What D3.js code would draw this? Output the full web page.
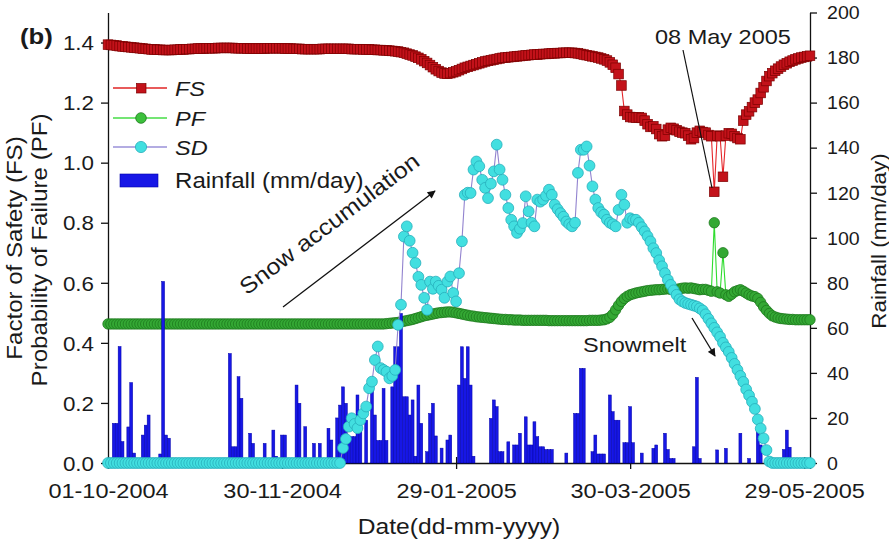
<!DOCTYPE html>
<html>
<head>
<meta charset="utf-8">
<script src="https://cdn.jsdelivr.net/npm/d3@7"></script>
<style>
  body { margin: 0; background: #fff; }
  svg { display: block; }
  text { font-family: "Liberation Sans", Arial, Helvetica, sans-serif; fill: #1a1a1a; }
</style>
</head>
<body>
<svg id="chart" width="889" height="548"></svg>
<script>
// ---- data: one value per day, 01-10-2004 .. 31-05-2005 ----
const firstDayLabel = "01-10-2004";
const lastDayLabel = "31-05-2005";
const dateTicks = ["01-10-2004", "30-11-2004", "29-01-2005", "30-03-2005", "29-05-2005"];
const leftTicks = [0, 0.2, 0.4, 0.6, 0.8, 1.0, 1.2, 1.4];
const rightTicks = [0, 20, 40, 60, 80, 100, 120, 140, 160, 180, 200];

// daily rainfall (mm/day)
const rainfall = [
  0,0,17.6,17.6,51.7,9.5,0,16,35.7,4.4,
  0,0,12.4,16.8,21.3,0,0,0,4,80.6,
  12.4,11,0,0,0,0,0,0,0,0,
  0,0,0,0,0,0,0,0,0,0,
  0,0,48.6,7.2,7.2,38.3,28.7,0,0,13.2,
  8.7,2,0,0,8.7,0,0,14.6,3,0,
  12.4,12.4,0,0,0,34.6,26.5,0,16.1,0,
  0,8.7,0,8.7,0,0,15.4,10.2,0,20,
  25.7,33.8,26.5,11.7,11.7,11.7,30.2,16.1,0,19,
  0,32.4,21.3,10,10,33.1,10,0,33.8,51.6,
  51.6,66.4,29.4,29.4,21.3,28,3,34.6,17.6,0,
  5,22,26.5,12,0,6.6,0,10.2,12.4,0,
  0,34.6,51.6,37.5,51.6,34.6,3,0,0,0,
  0,0,19.8,28,25,5,5,0,9.4,0,
  8,8,13.2,0,20.5,8,8,18.3,11.7,7.2,
  7.2,6,6,6,0,0,0,0,4.4,0,
  0,22,22,42,42,0,0,5,12.4,4,
  4,4,0,30.2,22.8,19,19,0,9,9,
  25,9,0,0,4.4,0,0,0,6.5,8,
  0,0,13.2,6,2,2,0,0,0,0,
  0,0,7.2,38,2,0,0,0,0,0,
  5.8,0,0,6.5,0,0,0,0,13.2,0,
  0,2,0,0,13.9,8,0,0,0,0,
  0,0,0,6,14.6,7,0,0,0,0,
  0,0,0
];

// factor of safety (FS)
const factorOfSafety = [
  1.393,1.392,1.391,1.390,1.388,1.387,1.386,1.385,1.384,1.383,
  1.382,1.381,1.380,1.379,1.378,1.377,1.377,1.376,1.376,1.375,
  1.375,1.375,1.375,1.376,1.376,1.377,1.377,1.378,1.378,1.379,
  1.379,1.380,1.380,1.380,1.381,1.381,1.381,1.381,1.382,1.382,
  1.382,1.382,1.382,1.382,1.381,1.381,1.381,1.381,1.380,1.380,
  1.380,1.380,1.380,1.380,1.380,1.381,1.381,1.381,1.381,1.381,
  1.381,1.380,1.380,1.380,1.379,1.379,1.379,1.378,1.378,1.378,
  1.378,1.378,1.378,1.378,1.379,1.379,1.379,1.379,1.379,1.379,
  1.379,1.379,1.379,1.379,1.378,1.378,1.378,1.378,1.377,1.377,
  1.377,1.376,1.376,1.375,1.375,1.374,1.374,1.373,1.372,1.371,
  1.370,1.368,1.366,1.363,1.360,1.357,1.353,1.349,1.344,1.338,
  1.332,1.325,1.318,1.311,1.305,1.300,1.297,1.296,1.298,1.301,
  1.304,1.308,1.312,1.316,1.319,1.322,1.325,1.328,1.331,1.334,
  1.337,1.339,1.341,1.343,1.345,1.347,1.349,1.350,1.351,1.352,
  1.353,1.354,1.355,1.356,1.357,1.358,1.359,1.360,1.360,1.361,
  1.362,1.362,1.363,1.364,1.364,1.365,1.365,1.366,1.366,1.366,
  1.366,1.365,1.364,1.362,1.360,1.358,1.356,1.354,1.352,1.350,
  1.347,1.344,1.340,1.334,1.326,1.316,1.295,1.257,1.172,1.160,
  1.152,1.151,1.150,1.151,1.149,1.140,1.128,1.119,1.121,1.112,
  1.095,1.088,1.090,1.110,1.116,1.113,1.108,1.103,1.100,1.098,
  1.090,1.078,1.082,1.100,1.106,1.102,1.100,1.092,1.088,0.903,
  1.090,1.088,0.953,1.090,1.098,1.096,1.088,1.082,1.078,1.140,
  1.160,1.171,1.185,1.200,1.210,1.232,1.251,1.272,1.288,1.298,
  1.306,1.313,1.320,1.326,1.331,1.336,1.340,1.344,1.347,1.350,
  1.352,1.354,1.356
];

// probability of failure (PF)
const probabilityOfFailure = [
  0.463,0.463,0.463,0.463,0.463,0.463,0.463,0.463,0.463,0.463,
  0.463,0.463,0.463,0.463,0.463,0.463,0.463,0.463,0.463,0.463,
  0.463,0.463,0.463,0.463,0.463,0.463,0.463,0.463,0.463,0.463,
  0.463,0.463,0.463,0.463,0.463,0.463,0.463,0.463,0.463,0.463,
  0.463,0.463,0.463,0.463,0.463,0.463,0.463,0.463,0.463,0.463,
  0.463,0.463,0.463,0.463,0.463,0.463,0.463,0.463,0.463,0.463,
  0.463,0.463,0.463,0.463,0.463,0.463,0.463,0.463,0.463,0.463,
  0.463,0.463,0.463,0.463,0.463,0.463,0.463,0.463,0.463,0.463,
  0.463,0.463,0.463,0.463,0.463,0.463,0.463,0.463,0.463,0.463,
  0.463,0.463,0.463,0.463,0.463,0.463,0.464,0.465,0.466,0.467,
  0.468,0.470,0.472,0.474,0.476,0.478,0.481,0.484,0.487,0.490,
  0.492,0.494,0.496,0.498,0.500,0.501,0.502,0.503,0.503,0.502,
  0.500,0.498,0.496,0.494,0.492,0.490,0.489,0.487,0.486,0.485,
  0.484,0.483,0.482,0.481,0.480,0.479,0.478,0.478,0.477,0.477,
  0.476,0.476,0.476,0.475,0.475,0.475,0.475,0.475,0.475,0.475,
  0.475,0.475,0.474,0.474,0.474,0.474,0.474,0.474,0.474,0.474,
  0.474,0.474,0.474,0.474,0.474,0.474,0.475,0.475,0.475,0.475,
  0.476,0.477,0.480,0.485,0.495,0.510,0.525,0.538,0.548,0.555,
  0.560,0.563,0.566,0.568,0.570,0.572,0.574,0.575,0.576,0.577,
  0.577,0.578,0.579,0.580,0.578,0.576,0.578,0.580,0.582,0.583,
  0.582,0.583,0.581,0.579,0.577,0.578,0.578,0.575,0.572,0.800,
  0.570,0.566,0.700,0.560,0.555,0.562,0.570,0.574,0.577,0.572,
  0.566,0.560,0.556,0.554,0.548,0.535,0.520,0.508,0.498,0.490,
  0.486,0.483,0.481,0.480,0.479,0.478,0.478,0.477,0.477,0.477,
  0.477,0.477,0.477
];

// snow depth (SD), drawn against the left axis
const snowDepth = [
  0,0,0,0,0,0,0,0,0,0,
  0,0,0,0,0,0,0,0,0,0,
  0,0,0,0,0,0,0,0,0,0,
  0,0,0,0,0,0,0,0,0,0,
  0,0,0,0,0,0,0,0,0,0,
  0,0,0,0,0,0,0,0,0,0,
  0,0,0,0,0,0,0,0,0,0,
  0,0,0,0,0,0,0,0,0,0,
  0,0.05,0.08,0.121,0.149,0.13,0.116,0.143,0.165,0.188,
  0.249,0.271,0.343,0.388,0.316,0.31,0.304,0.282,0.29,0.31,
  0.46,0.527,0.754,0.788,0.74,0.70,0.666,0.62,0.593,0.55,
  0.51,0.604,0.58,0.604,0.59,0.577,0.55,0.604,0.621,0.566,
  0.538,0.632,0.738,0.893,0.90,0.899,0.977,1.004,0.988,0.943,
  0.916,0.882,0.93,0.971,1.06,0.977,0.943,0.893,0.849,0.81,
  0.788,0.766,0.78,0.799,0.888,0.838,0.80,0.788,0.877,0.87,
  0.877,0.89,0.91,0.893,0.86,0.845,0.832,0.82,0.804,0.795,
  0.788,0.80,0.966,1.043,1.043,1.054,0.99,0.921,0.877,0.849,
  0.835,0.827,0.81,0.80,0.795,0.788,0.843,0.893,0.86,0.80,
  0.815,0.81,0.81,0.80,0.785,0.771,0.755,0.738,0.715,0.699,
  0.675,0.655,0.632,0.61,0.593,0.575,0.56,0.545,0.538,0.533,
  0.53,0.527,0.524,0.521,0.515,0.508,0.495,0.48,0.465,0.45,
  0.435,0.42,0.40,0.385,0.37,0.35,0.33,0.31,0.29,0.27,
  0.245,0.225,0.204,0.18,0.145,0.115,0.082,0.043,0.005,0,
  0,0,0,0,0,0,0,0,0,0,
  0,0,0
];

// ---- layout ----
const SX = 1.12;              // horizontal stretch applied to all lettering
const plot = { left: 108, right: 810, top: 12.5, bottom: 463 };

const svg = d3.select("#chart");
const parseDay = d3.utcParse("%d-%m-%Y");
const fmtDay = d3.utcFormat("%d-%m-%Y");
const firstDay = parseDay(firstDayLabel);
const days = rainfall.map((_, i) => d3.utcDay.offset(firstDay, i));

const x = d3.scaleUtc().domain([firstDay, parseDay(lastDayLabel)]).range([plot.left, plot.right]);
const yL = d3.scaleLinear().domain([0, 1.5]).range([plot.bottom, plot.top]);
const yR = d3.scaleLinear().domain([0, 200]).range([plot.bottom, plot.top]);
const dayWidth = x(days[1]) - x(days[0]);

function label(g, txt, px, py, o = {}) {
  const t = g.append("text").text(txt)
    .attr("transform", `translate(${px},${py}) rotate(${o.rotate || 0}) scale(${SX},1)`)
    .attr("text-anchor", o.anchor || "start")
    .style("font-size", (o.size || 21) + "px");
  if (o.weight) t.style("font-weight", o.weight);
  if (o.italic) t.style("font-style", "italic");
  return t;
}

function styleAxis(g, size, tx, ty, dy) {
  g.attr("font-size", null).attr("font-family", null);
  g.select(".domain").attr("stroke", "#111").attr("stroke-width", 1.3);
  g.selectAll(".tick line").attr("stroke", "#111").attr("stroke-width", 1.3);
  g.selectAll(".tick text")
    .attr("x", null).attr("y", null).attr("dy", dy)
    .attr("fill", "#1a1a1a")
    .style("font-size", size + "px")
    .attr("transform", `translate(${tx},${ty}) scale(${SX},1)`);
}

// ---- axes ----
const gx = svg.append("g").attr("transform", `translate(0,${plot.bottom})`)
  .call(d3.axisBottom(x).tickValues(dateTicks.map(parseDay)).tickFormat(fmtDay).tickSizeOuter(0).tickSize(6));
styleAxis(gx, 21, 0, 35, null);
gx.selectAll(".tick line").attr("y1", -6).attr("y2", 6);

const gl = svg.append("g").attr("transform", `translate(${plot.left},0)`)
  .call(d3.axisLeft(yL).tickValues(leftTicks).tickFormat(d3.format(".1f")).tickSize(7).tickSizeOuter(0));
styleAxis(gl, 20, -14, 0, "0.36em");
gl.selectAll(".tick text").attr("text-anchor", "end");

const gr = svg.append("g").attr("transform", `translate(${plot.right},0)`)
  .call(d3.axisRight(yR).tickValues(rightTicks).tickSize(7).tickSizeOuter(0));
styleAxis(gr, 17.5, 17, 0, "0.36em");
gr.selectAll(".tick text").attr("text-anchor", "start");

// ---- probability of failure ----
const gPF = svg.append("g");
gPF.append("path")
  .attr("d", d3.line().x((d, i) => x(days[i])).y(d => yL(d))(probabilityOfFailure))
  .attr("fill", "none").attr("stroke", "#2fdc2f").attr("stroke-width", 1.1);
gPF.selectAll("circle").data(probabilityOfFailure).join("circle")
  .attr("cx", (d, i) => x(days[i])).attr("cy", d => yL(d)).attr("r", 5.2)
  .attr("fill", "#34a834").attr("stroke", "#1d7a1d").attr("stroke-width", 0.8);

// ---- rainfall bars ----
svg.append("g").selectAll("rect")
  .data(rainfall.map((v, i) => ({ v, i })).filter(d => d.v > 0))
  .join("rect")
  .attr("x", d => x(days[d.i]) - dayWidth / 2)
  .attr("width", dayWidth)
  .attr("y", d => yR(d.v))
  .attr("height", d => plot.bottom - yR(d.v))
  .attr("fill", "#1717e6").attr("stroke", "#0000a8").attr("stroke-width", 0.5);

// ---- snow depth ----
const gSD = svg.append("g");
gSD.append("path")
  .attr("d", d3.line().x((d, i) => x(days[i])).y(d => yL(d))(snowDepth))
  .attr("fill", "none").attr("stroke", "#9283cf").attr("stroke-width", 1.1);
gSD.selectAll("circle").data(snowDepth).join("circle")
  .attr("cx", (d, i) => x(days[i])).attr("cy", d => yL(d)).attr("r", 5.4)
  .attr("fill", "#42dfe0").attr("stroke", "#27aebb").attr("stroke-width", 0.8);

// ---- factor of safety ----
const gFS = svg.append("g");
gFS.append("path")
  .attr("d", d3.line().x((d, i) => x(days[i])).y(d => yL(d))(factorOfSafety))
  .attr("fill", "none").attr("stroke", "#e5262a").attr("stroke-width", 1.1);
gFS.selectAll("rect").data(factorOfSafety).join("rect")
  .attr("x", (d, i) => x(days[i]) - 4.8).attr("y", d => yL(d) - 4.8)
  .attr("width", 9.6).attr("height", 9.6)
  .attr("fill", "#c3121a").attr("stroke", "#7d0000").attr("stroke-width", 0.7);

// ---- legend ----
const lg = svg.append("g");
const legendRows = [
  { name: "FS", y: 88, line: "#e02525" },
  { name: "PF", y: 118, line: "#46dc46" },
  { name: "SD", y: 147, line: "#9a90d8" }
];
legendRows.forEach(r => {
  lg.append("line").attr("x1", 113).attr("x2", 167).attr("y1", r.y).attr("y2", r.y)
    .attr("stroke", r.line).attr("stroke-width", 1.4);
  label(lg, r.name, 175, r.y + 8, { size: 21, italic: true });
});
lg.append("rect").attr("x", 136.5).attr("y", 83.5).attr("width", 9.5).attr("height", 9.5)
  .attr("fill", "#c3121a").attr("stroke", "#7d0000").attr("stroke-width", 0.7);
lg.append("circle").attr("cx", 141).attr("cy", 118).attr("r", 5.3)
  .attr("fill", "#3cc03c").attr("stroke", "#1d7a1d").attr("stroke-width", 0.8);
lg.append("circle").attr("cx", 141).attr("cy", 147).attr("r", 5.6)
  .attr("fill", "#42dfe0").attr("stroke", "#27aebb").attr("stroke-width", 0.8);
lg.append("rect").attr("x", 120).attr("y", 174).attr("width", 38).attr("height", 13)
  .attr("fill", "#1717e6").attr("stroke", "#0000a8").attr("stroke-width", 0.6);
label(lg, "Rainfall (mm/day)", 175, 188, { size: 21.5 });

// ---- axis titles ----
label(svg, "Date(dd-mm-yyyy)", 459, 534, { size: 22, anchor: "middle" });
label(svg, "Factor of Safety (FS)", 22, 248, { size: 21.5, anchor: "middle", rotate: -90 });
label(svg, "Probability of Failure (PF)", 47, 250, { size: 21.5, anchor: "middle", rotate: -90 });
label(svg, "Rainfall (mm/day)", 886, 241, { size: 20, anchor: "middle", rotate: -90 });

// ---- annotations ----
svg.append("defs").append("marker")
  .attr("id", "arrowHead").attr("viewBox", "0 0 10 10")
  .attr("refX", 9).attr("refY", 5)
  .attr("markerUnits", "userSpaceOnUse").attr("markerWidth", 10).attr("markerHeight", 8)
  .attr("orient", "auto")
  .append("path").attr("d", "M0,0L10,5L0,10z").attr("fill", "#111");

label(svg, "(b)", 20, 44, { size: 23, weight: "bold" });

label(svg, "Snow accumulation", 334, 230, { size: 22.5, anchor: "middle", rotate: -37 });
svg.append("line").attr("x1", 283).attr("y1", 307).attr("x2", 435).attr("y2", 191)
  .attr("stroke", "#111").attr("stroke-width", 1.3).attr("marker-end", "url(#arrowHead)");

label(svg, "Snowmelt", 583, 352, { size: 21 });
svg.append("line").attr("x1", 692).attr("y1", 318).attr("x2", 715).attr("y2", 356)
  .attr("stroke", "#111").attr("stroke-width", 1.3).attr("marker-end", "url(#arrowHead)");

label(svg, "08 May 2005", 655, 44, { size: 21 });
svg.append("line").attr("x1", 683).attr("y1", 50).attr("x2", 712).attr("y2", 188)
  .attr("stroke", "#111").attr("stroke-width", 1.2);
</script>
</body>
</html>
